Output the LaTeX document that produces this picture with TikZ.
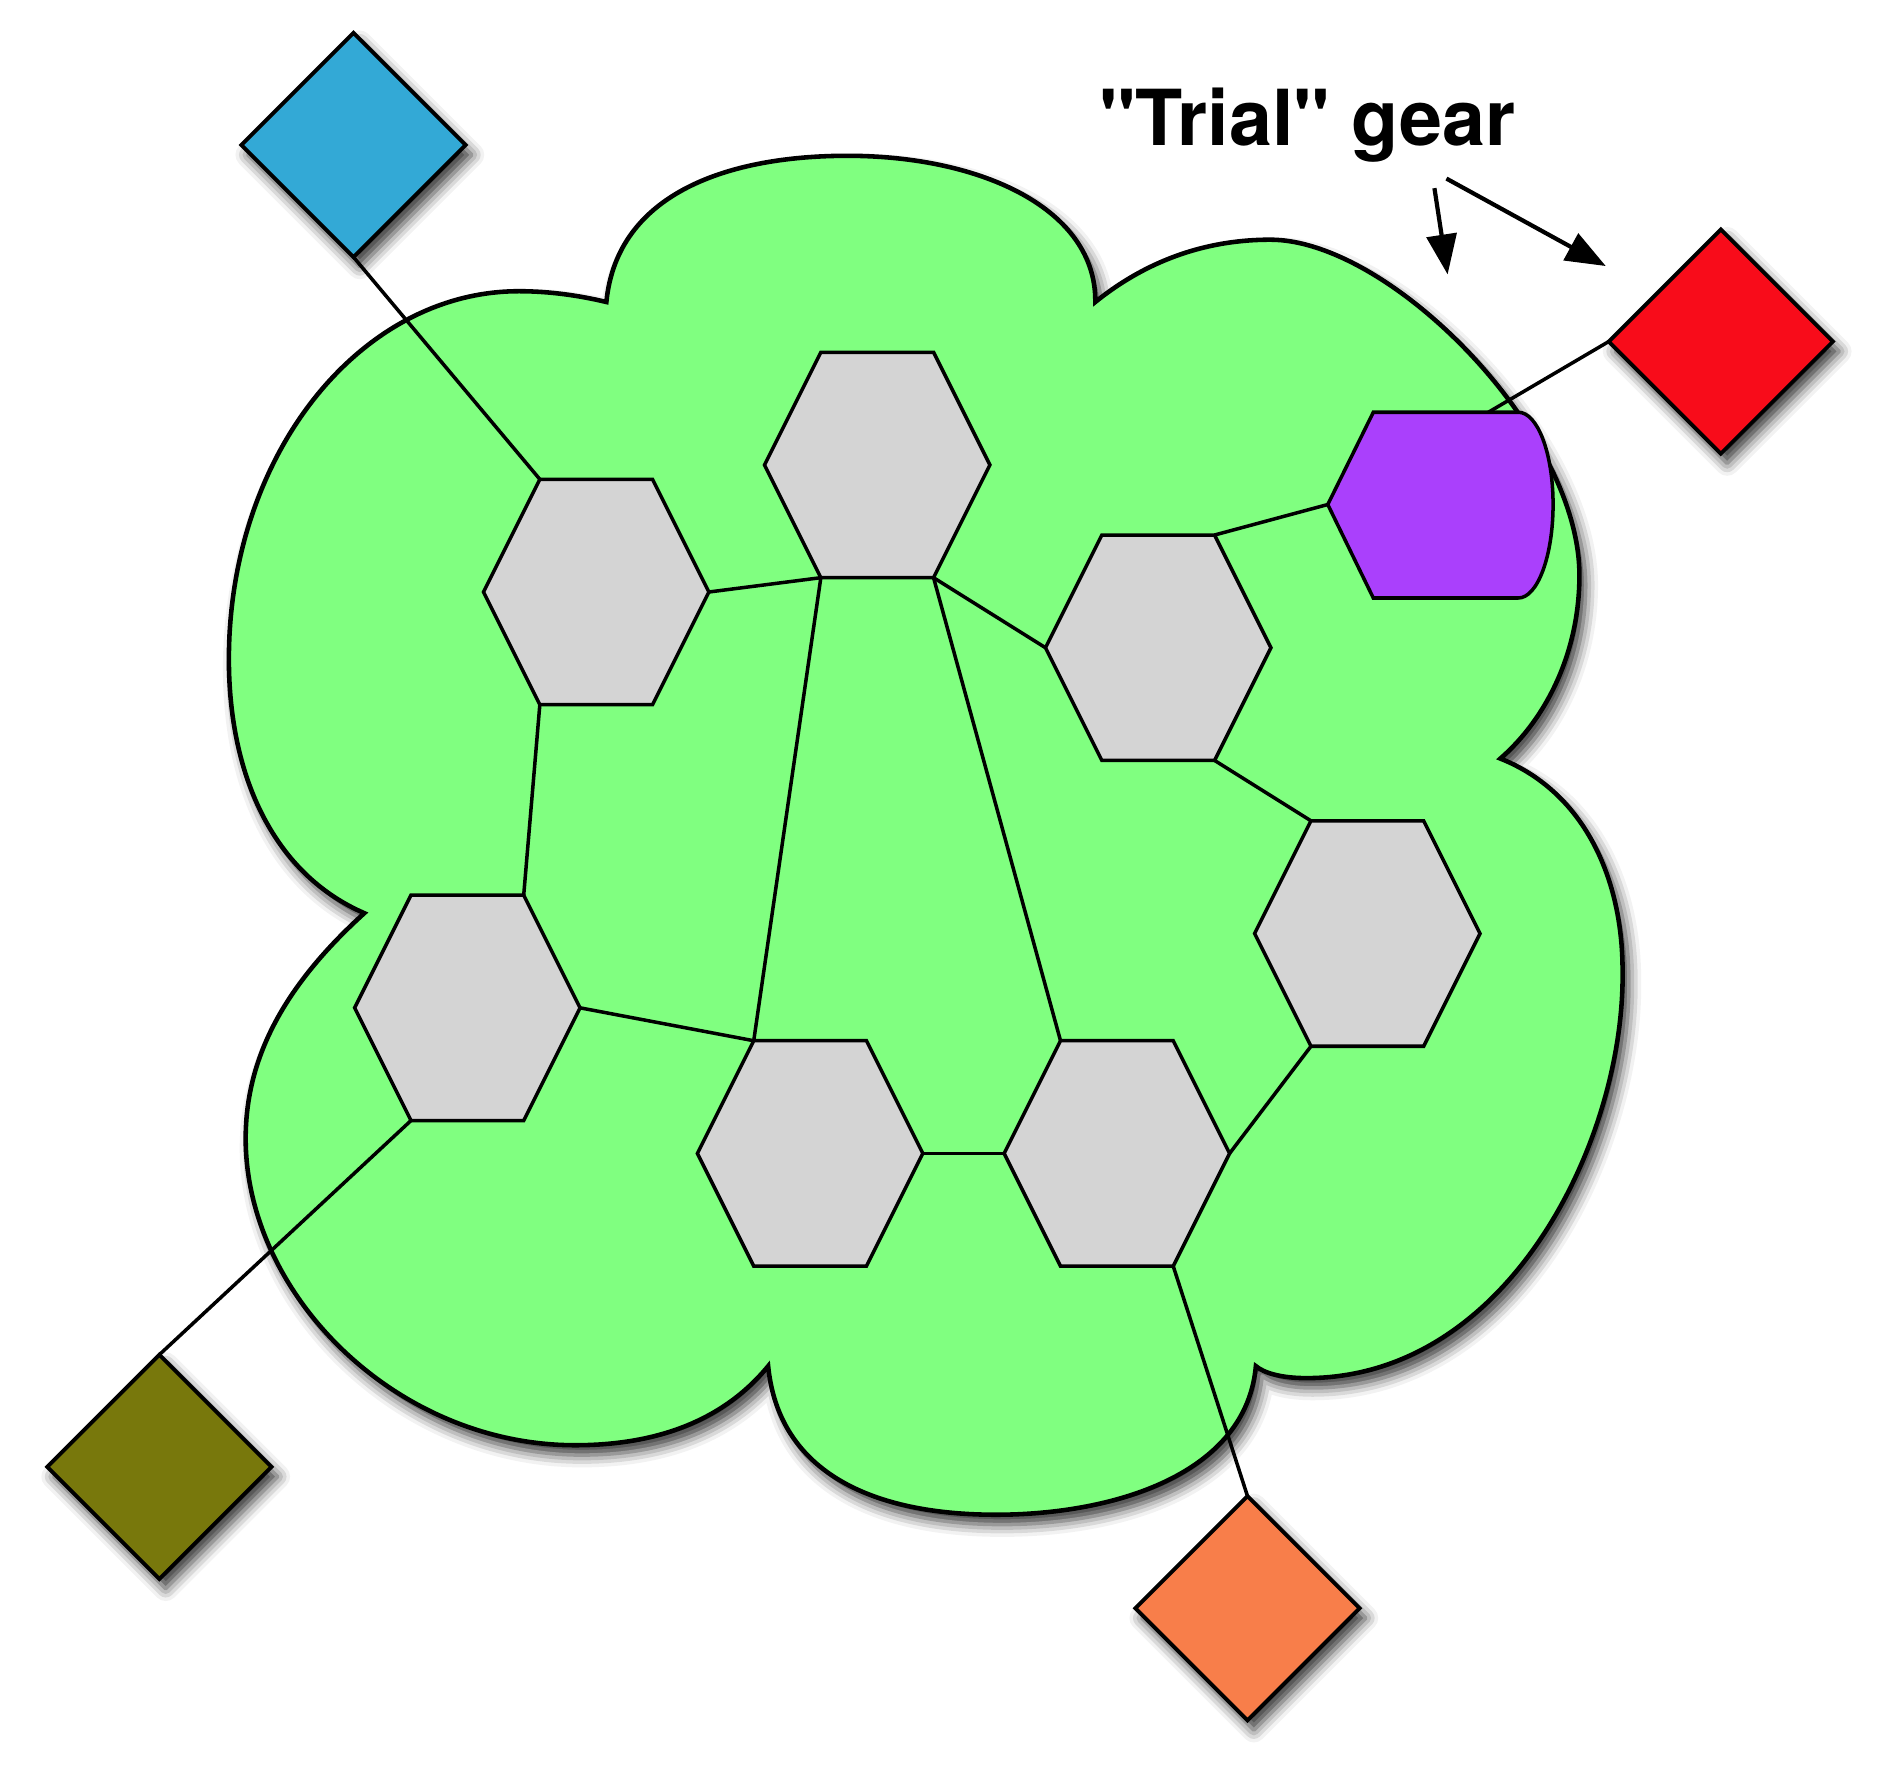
\documentclass[tikz,border=0pt]{standalone}
\usepackage{fontspec}
\newfontfamily\heros{TeX Gyre Heros}
\usetikzlibrary{shapes.geometric,arrows.meta,shadows.blur}

\definecolor{cloudgreen}{RGB}{128,255,128}
\definecolor{geargray}{RGB}{212,212,212}
\definecolor{trialpurple}{RGB}{170,64,252}
\definecolor{portblue}{RGB}{51,169,214}
\definecolor{portred}{RGB}{248,12,26}
\definecolor{portolive}{RGB}{120,120,12}
\definecolor{portorange}{RGB}{248,126,74}

\tikzset{
  softshadow/.style={blur shadow={shadow xshift=1.8pt, shadow yshift=-2.8pt,
      shadow blur radius=3.5pt, shadow opacity=80}},
  gear/.style={regular polygon, regular polygon sides=6, minimum size=2.256cm,
    yscale=1.1547, inner sep=0pt, outer sep=0pt, draw, line width=1pt, fill=geargray},
  port/.style={diamond, aspect=1, minimum width=2.244cm, minimum height=2.244cm,
    inner sep=0pt, outer sep=0pt, draw, line width=1.1pt, softshadow},
  wire/.style={line width=1pt},
  pointer/.style={line width=1.2pt, -{Triangle[length=0.4cm, width=0.3cm, fill=black]}},
}

\begin{document}
\begin{tikzpicture}[x=0.012cm, y=-0.012cm]
  \useasboundingbox (0,0) rectangle (1568,1491);

  % the cloud
  \draw[line width=1.3pt, fill=cloudgreen, softshadow]
    (506,252) .. controls (515,160) and (610,130) .. (707,130)
    .. controls (820,130) and (915,175) .. (914,252)
    .. controls (960,215) and (1010,200) .. (1060,200)
    .. controls (1160,200) and (1318,360) .. (1318,480)
    .. controls (1318,545) and (1290,600) .. (1252,633)
    .. controls (1320,660) and (1354,730) .. (1354,810)
    .. controls (1356,950) and (1260,1150) .. (1090,1150)
    .. controls (1070,1150) and (1055,1146) .. (1048,1140)
    .. controls (1040,1230) and (930,1264) .. (831,1264)
    .. controls (730,1264) and (650,1230) .. (641,1140)
    .. controls (600,1190) and (540,1206) .. (480,1206)
    .. controls (330,1206) and (205,1080) .. (205,950)
    .. controls (205,880) and (240,820) .. (304,762)
    .. controls (230,730) and (191,650) .. (191,550)
    .. controls (191,380) and (300,243) .. (433,243)
    .. controls (460,243) and (485,247) .. (506,252) -- cycle;

  % gears (corner 1 upper right, counterclockwise)
  \node[gear] (g1) at (497.5,494) {};
  \node[gear] (g2) at (732,388) {};
  \node[gear] (g3) at (966.5,540.5) {};
  \node[gear] (g4) at (1141,779) {};
  \node[gear] (g5) at (390,841) {};
  \node[gear] (g6) at (676,962.5) {};
  \node[gear] (g7) at (932,962.5) {};

  % the trial gear
  \draw[line width=1pt, fill=trialpurple] (1108,421) -- (1146,344) -- (1267,344)
    .. controls (1283,344) and (1296,378) .. (1296,421)
    .. controls (1296,464) and (1283,499) .. (1267,499) -- (1146,499) -- cycle;
  \coordinate (tw) at (1108,421);
  \coordinate (tn) at (1242,344);

  % ports
  \node[port, fill=portblue] (p1) at (295,121) {};
  \node[port, fill=portred] (p2) at (1436,285) {};
  \node[port, fill=portolive] (p3) at (133,1224) {};
  \node[port, fill=portorange] (p4) at (1041,1342) {};

  \draw[wire] (p1.south) -- (g1.corner 2);
  \draw[wire] (g1.corner 6) -- (g2.corner 4);
  \draw[wire] (g1.corner 4) -- (g5.corner 1);
  \draw[wire] (g2.corner 4) -- (g6.corner 2);
  \draw[wire] (g2.corner 5) -- (g3.corner 3);
  \draw[wire] (g2.corner 5) -- (g7.corner 2);
  \draw[wire] (g3.corner 1) -- (tw);
  \draw[wire] (g3.corner 5) -- (g4.corner 2);
  \draw[wire] (g5.corner 6) -- (g6.corner 2);
  \draw[wire] (g5.corner 4) -- (p3.north);
  \draw[wire] (g6.corner 6) -- (g7.corner 3);
  \draw[wire] (g7.corner 6) -- (g4.corner 4);
  \draw[wire] (g7.corner 5) -- (p4.north);
  \draw[wire] (tn) -- (p2.west);

  % label
  \node[font=\heros\bfseries\fontsize{22}{26}\selectfont, anchor=base, inner sep=0pt]
    (lbl) at (1091,121) {"Trial" gear};
  \coordinate (s1) at (1197,157);
  \coordinate (e1) at (1208,229);
  \coordinate (s2) at (1207,149);
  \coordinate (e2) at (1340,222);
  \draw[pointer] (s1) -- (e1);
  \draw[pointer] (s2) -- (e2);
\end{tikzpicture}
\end{document}
